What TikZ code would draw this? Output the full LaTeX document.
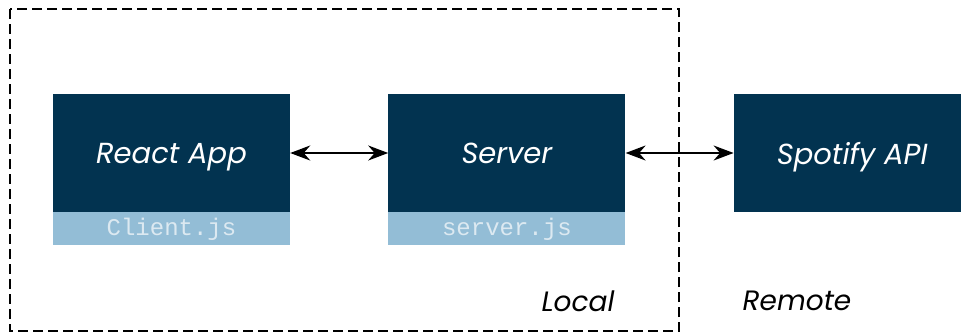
\documentclass[tikz,border=0pt]{standalone}
\usepackage{fontspec}
\setmainfont{Poppins}
\setmonofont{Liberation Mono}
\usetikzlibrary{arrows.meta, positioning}
\definecolor{navy}{HTML}{023350}
\definecolor{paleblue}{HTML}{93BDD6}
\definecolor{monotext}{HTML}{DCE9F1}

\begin{document}
\begin{tikzpicture}[
    x=1pt, y=-1pt,
    node distance=0pt and 98pt,
    block/.style={rectangle, fill=navy, text=white, minimum width=237pt, minimum height=118pt, inner sep=0pt, text depth=0pt, font=\fontsize{29}{34}\selectfont\itshape},
    filetag/.style={rectangle, fill=paleblue, text=monotext, minimum width=237pt, minimum height=33pt, inner sep=0pt, font=\fontsize{24}{28}\selectfont\ttfamily},
    zone/.style={font=\fontsize{28}{32}\selectfont\itshape},
    arr/.style={{Stealth[length=20pt, width=15pt]}-{Stealth[length=20pt, width=15pt]}, line width=1.8pt}
]
\useasboundingbox (0,0) rectangle (961,333);
\clip (0,0) rectangle (961,333);

% Local boundary
\draw[dash pattern=on 10pt off 5pt, line width=1.5pt] (10,9) rectangle (679,331);

% Components
\node[block] (react) at (171.5,153) {React App};
\node[filetag, below=0pt of react] (clientjs) {Client.js};
\node[block, right=98pt of react] (server) {Server};
\node[filetag, below=0pt of server] (serverjs) {server.js};
\node[block, right=108pt of server] (spotify) {Spotify API};

% Zone labels
\node[zone] (local) at (578,301) {Local};
\node[zone] (remote) at (797,301) {Remote};

% Connections
\draw[arr] (react) -- (server);
\draw[arr] (server) -- (spotify);

\end{tikzpicture}
\end{document}
